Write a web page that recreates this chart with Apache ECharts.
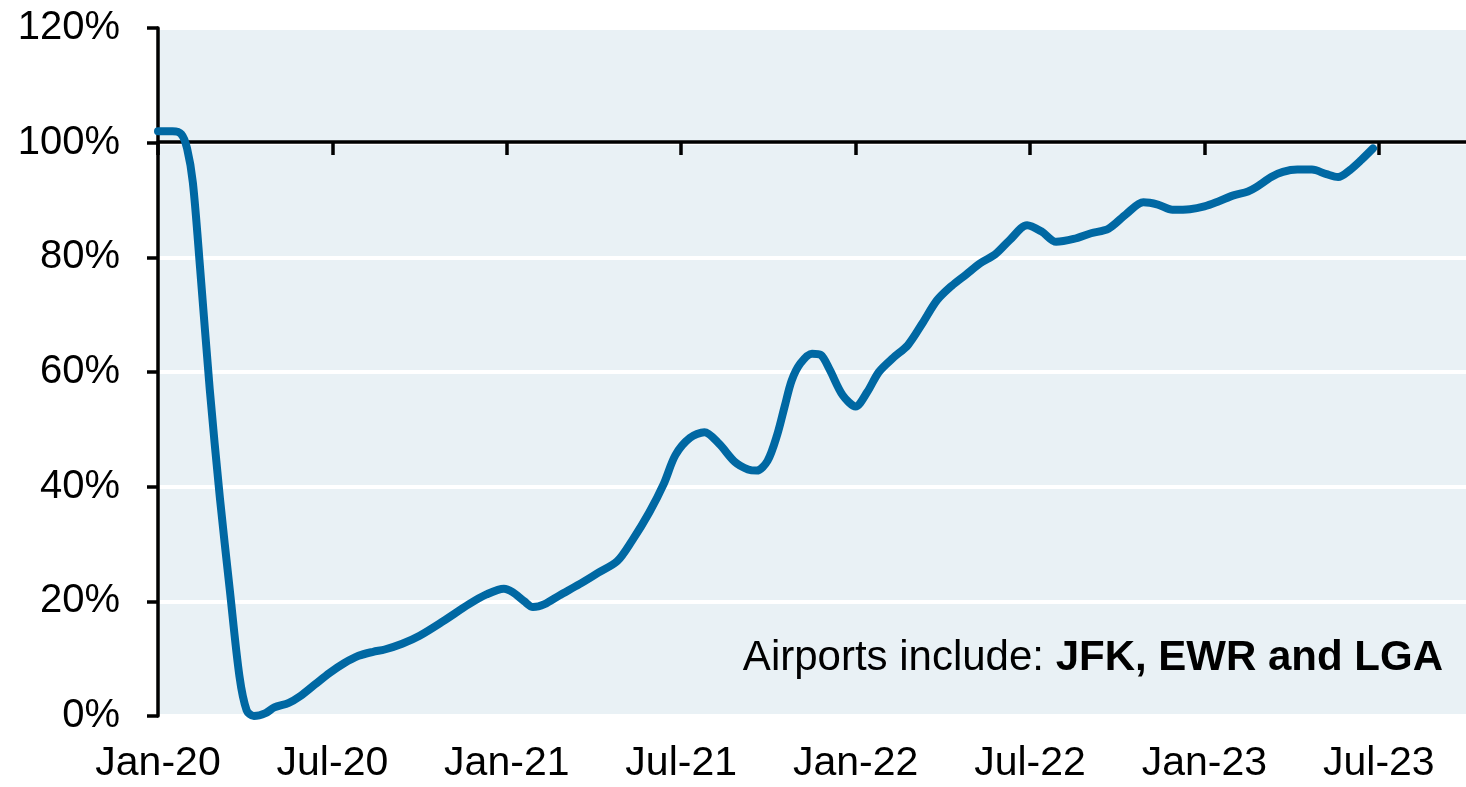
<!DOCTYPE html>
<html>
<head>
<meta charset="utf-8">
<script src="https://cdn.jsdelivr.net/npm/echarts@6/dist/echarts.min.js"></script>
<style>
  html, body { margin: 0; padding: 0; background: #fff; }
  #main { width: 1466px; height: 787px; }
</style>
</head>
<body>
<div id="main"></div>
<script>
// months since Jan-20 (fractional, roughly weekly points)
var monthIdx = [0, 0.5, 0.8, 1.0, 1.2, 1.45, 1.78, 2.13, 2.47, 2.8, 3.05, 3.3, 3.7, 4.0, 4.5, 4.9,
  5.4, 5.9, 6.4, 6.9, 7.4, 7.8, 8.4, 9.0, 9.8, 10.7, 11.3, 11.9, 12.2, 12.6, 12.9, 13.3, 13.8,
  14.5, 15.15, 15.8, 16.3, 16.9, 17.4, 17.8, 18.3, 18.8, 19.3, 19.85, 20.3, 20.6, 20.97, 21.3,
  21.56, 21.8, 22.1, 22.5, 22.8, 23.1, 23.55, 24.0, 24.4, 24.8, 25.3, 25.8, 26.3, 26.8, 27.3,
  27.8, 28.3, 28.8, 29.3, 29.9, 30.4, 30.9, 31.5, 32.1, 32.7, 33.3, 33.9, 34.4, 34.9, 35.5,
  36.0, 36.5, 37.0, 37.5, 37.8, 38.3, 38.7, 39.2, 39.7, 40.2, 40.6, 41.0, 41.4, 41.8];
// passenger traffic as % of 2019 level
var share = [102, 102, 101.5, 99, 93, 78, 57, 38, 22, 7, 1, 0, 0.5, 1.5, 2.3, 3.5,
  5.5, 7.5, 9.2, 10.5, 11.2, 11.6, 12.6, 14, 16.5, 19.5, 21.2, 22.2, 21.6, 20, 19, 19.5, 21,
  23, 25, 27, 30.5, 35.5, 40.5, 45.5, 48.5, 49.5, 47.5, 44.3, 43, 42.8, 44.5, 49,
  54, 58.5, 61.5, 63.2, 63, 60.5, 56, 54, 56.5, 60, 62.5, 64.7, 68.5, 72.5, 75,
  77, 79, 80.5, 83, 85.6, 84.5, 82.7, 83.2, 84.2, 85, 87.5, 89.6, 89.2, 88.3, 88.4,
  88.9, 89.8, 90.8, 91.5, 92.3, 94, 94.9, 95.3, 95.3, 94.5, 94, 95.2, 97, 99];

var tickMonths = [0, 6, 12, 18, 24, 30, 36, 42];
var tickLabels = ['Jan-20', 'Jul-20', 'Jan-21', 'Jul-21', 'Jan-22', 'Jul-22', 'Jan-23', 'Jul-23'];

var font = 'Liberation Sans, Arial, sans-serif';
var myChart = echarts.init(document.getElementById('main'));

myChart.setOption({
  animation: false,
  grid: {
    left: 158, right: 0, top: 28, bottom: 71,
    show: true,
    backgroundColor: '#E9F1F5',
    borderWidth: 0,
    outerBoundsMode: 'none'
  },
  xAxis: [{
    type: 'value',
    min: 0, max: 45, interval: 6,
    axisLine: { show: false },
    axisTick: { show: false },
    splitLine: { show: false },
    axisLabel: {
      customValues: tickMonths,
      fontSize: 41, color: '#000', fontFamily: font, margin: 27,
      formatter: function (v) {
        var i = tickMonths.indexOf(v);
        return i >= 0 ? tickLabels[i] : '';
      }
    }
  }, {
    // black line at 100% with the ticks hanging down
    type: 'value',
    min: 0, max: 45, interval: 6,
    position: 'bottom',
    offset: -574,
    axisLine: { show: true, lineStyle: { color: '#000', width: 3.5 } },
    axisTick: { show: true, customValues: tickMonths, length: 13, lineStyle: { color: '#000', width: 3.5 } },
    axisLabel: { show: false },
    splitLine: { show: false }
  }],
  yAxis: {
    type: 'value',
    min: 0, max: 120, interval: 20,
    axisLine: { show: true, lineStyle: { color: '#000', width: 3.5 } },
    axisTick: { show: true, length: 11, lineStyle: { color: '#000', width: 3.5 } },
    splitLine: { show: true, lineStyle: { color: '#fff', width: 4 } },
    axisLabel: {
      formatter: '{value}%',
      fontSize: 40, color: '#000', fontFamily: font, margin: 38
    }
  },
  series: [{
    type: 'line',
    data: monthIdx.map(function (m, i) { return [m, share[i]]; }),
    smooth: 0.3,
    showSymbol: false,
    clip: false,
    lineStyle: { color: '#0068A3', width: 8, cap: 'round', join: 'round' }
  }],
  graphic: [{
    type: 'text',
    x: 1443, y: 658,
    style: {
      text: '{a|Airports include: }{b|JFK, EWR and LGA}',
      align: 'right',
      verticalAlign: 'middle',
      rich: {
        a: { fontSize: 42, fontFamily: font, fill: '#000' },
        b: { fontSize: 42, fontFamily: font, fontWeight: 'bold', fill: '#000' }
      }
    }
  }]
});
</script>
</body>
</html>
